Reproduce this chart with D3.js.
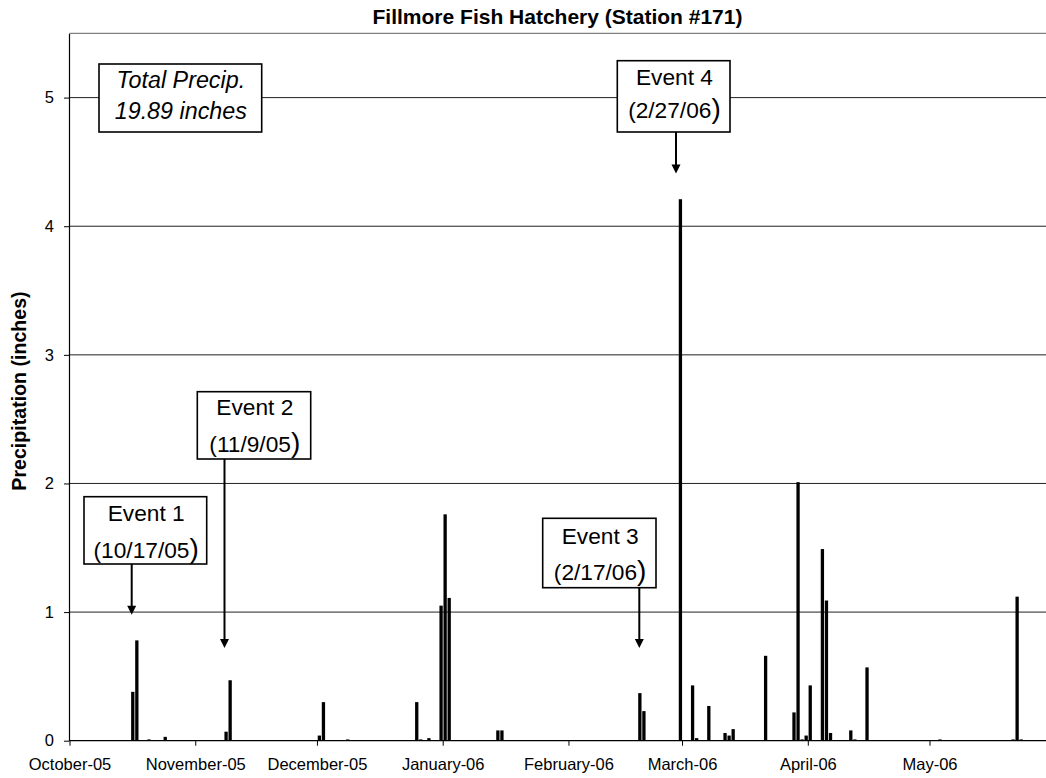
<!DOCTYPE html>
<html>
<head>
<meta charset="utf-8">
<script src="https://cdn.jsdelivr.net/npm/d3@7"></script>
<style>
  html, body { margin: 0; padding: 0; background: #fff; }
  svg { display: block; font-family: "Liberation Sans", Arial, sans-serif; }
</style>
</head>
<body>
<svg id="chart" width="1046" height="778"></svg>
<script>
// ---- data ----
const barDates = [
  "2005-10-16","2005-10-17","2005-10-20","2005-10-24",
  "2005-11-08","2005-11-09",
  "2005-12-01","2005-12-02","2005-12-08","2005-12-25","2005-12-26","2005-12-28","2005-12-31",
  "2006-01-01","2006-01-02","2006-01-14","2006-01-15",
  "2006-02-18","2006-02-19","2006-02-28",
  "2006-03-03","2006-03-04","2006-03-07","2006-03-11","2006-03-12","2006-03-13",
  "2006-03-21","2006-03-28","2006-03-29","2006-03-30","2006-03-31",
  "2006-04-01","2006-04-04","2006-04-05","2006-04-06","2006-04-11","2006-04-12","2006-04-15",
  "2006-05-03","2006-05-21","2006-05-22","2006-05-23"
];
const barValues = [
  0.38, 0.78, 0.01, 0.03,
  0.07, 0.47,
  0.04, 0.30, 0.01, 0.30, 0.01, 0.02, 1.05,
  1.76, 1.11, 0.08, 0.08,
  0.37, 0.23, 4.21,
  0.43, 0.02, 0.27, 0.06, 0.04, 0.09,
  0.66, 0.22, 2.01, 0.01, 0.04,
  0.43, 1.49, 1.09, 0.06, 0.08, 0.01, 0.57,
  0.01, 0.01, 1.12, 0.01
];
const monthTickDates = ["2005-10-01","2005-11-01","2005-12-01","2006-01-01","2006-02-01","2006-03-01","2006-04-01","2006-05-01"];
const monthTickLabels = ["October-05","November-05","December-05","January-06","February-06","March-06","April-06","May-06"];
const yTickValues = [0, 1, 2, 3, 4, 5];
const titleText = "Fillmore Fish Hatchery (Station #171)";
const yLabelText = "Precipitation (inches)";
const totalLines = ["Total Precip.", "19.89 inches"];
const eventNames = ["Event 1", "Event 2", "Event 3", "Event 4"];
const eventDates = ["(10/17/05", "(11/9/05", "(2/17/06", "(2/27/06"];

// ---- layout ----
const svg = d3.select("#chart");
const parse = d3.utcParse("%Y-%m-%d");
const plotLeft = 69.5, dayPx = 4.0566, plotTop = 33.3, plotBottom = 740.7;
const x = d3.scaleUtc()
  .domain([parse("2005-10-01"), parse("2006-05-30")])
  .range([plotLeft, plotLeft + dayPx * 241]);
const y = d3.scaleLinear().domain([0, 5.5]).range([plotBottom, plotTop]);
const barW = 3.3;

// plot top border
svg.append("line")
  .attr("x1", plotLeft).attr("x2", 1046)
  .attr("y1", plotTop).attr("y2", plotTop)
  .attr("stroke", "#7f7f7f").attr("stroke-width", 1.2);

// gridlines
svg.append("g").selectAll("line")
  .data(yTickValues.filter(v => v > 0))
  .join("line")
  .attr("x1", plotLeft).attr("x2", 1046)
  .attr("y1", d => y(d)).attr("y2", d => y(d))
  .attr("stroke", "#222").attr("stroke-width", 1);

// bars
const bars = barDates.map((d, i) => ({ date: parse(d), value: barValues[i] }));
svg.append("g").selectAll("rect")
  .data(bars)
  .join("rect")
  .attr("x", d => x(d.date) + 0.6 * dayPx - barW / 2)
  .attr("width", barW)
  .attr("y", d => y(d.value))
  .attr("height", d => y(0) - y(d.value))
  .attr("fill", "#000");

// x axis
const xAxis = d3.axisBottom(x)
  .tickValues(monthTickDates.map(parse))
  .tickFormat((d, i) => monthTickLabels[i])
  .tickSize(5).tickSizeOuter(0).tickPadding(13);
const gx = svg.append("g").attr("transform", `translate(0,${plotBottom})`).call(xAxis);
gx.select(".domain").attr("stroke", "#000").attr("stroke-width", 1.2).attr("d", `M${plotLeft},0H1046`);
gx.selectAll(".tick line").attr("stroke", "#000");
gx.selectAll(".tick text").attr("fill", "#000").attr("font-size", "16.5px")
  .attr("font-family", "'Liberation Sans', Arial, sans-serif");

// y axis
const yAxis = d3.axisLeft(y)
  .tickValues(yTickValues)
  .tickFormat(d3.format("d"))
  .tickSize(5).tickSizeOuter(0).tickPadding(10);
const gy = svg.append("g").attr("transform", `translate(${plotLeft - 0.5},0)`).call(yAxis);
gy.select(".domain").attr("stroke", "#000").attr("stroke-width", 1.2);
gy.selectAll(".tick line").attr("stroke", "#000");
gy.selectAll(".tick text").attr("fill", "#000").attr("font-size", "16.5px")
  .attr("font-family", "'Liberation Sans', Arial, sans-serif");

// title
svg.append("text")
  .attr("x", 557.5).attr("y", 24)
  .attr("text-anchor", "middle")
  .attr("font-weight", "bold").attr("font-size", "21px")
  .text(titleText);

// y label
svg.append("text")
  .attr("transform", "translate(26,391) rotate(-90)")
  .attr("text-anchor", "middle")
  .attr("font-weight", "bold").attr("font-size", "19.6px")
  .text(yLabelText);

// total precip box
const tb = svg.append("g");
tb.append("rect").attr("x", 99).attr("y", 64).attr("width", 162.7).attr("height", 68)
  .attr("fill", "#fff").attr("stroke", "#000").attr("stroke-width", 1.6);
tb.selectAll("text").data(totalLines).join("text")
  .attr("x", 180.8).attr("y", (d, i) => i === 0 ? 88.3 : 119.3)
  .attr("text-anchor", "middle").attr("font-style", "italic").attr("font-size", "23.3px")
  .text(d => d);

// event annotations (layout)
const boxes = [
  { x0: 84,    y0: 496.7, x1: 206.7, y1: 564,   t1: 24.3, t2: 61.3, ax: 131.7, tipV: 0.98 },
  { x0: 197.3, y0: 391.7, x1: 310.7, y1: 459,   t1: 23.3, t2: 60,   ax: 224.5, tipV: 0.72 },
  { x0: 542.7, y0: 518.3, x1: 656,   y1: 587.7, t1: 26,   t2: 61.7, ax: 639.3, tipV: 0.72 },
  { x0: 617.3, y0: 60.7,  x1: 730,   y1: 132,   t1: 24.3, t2: 57.6, ax: 676,   tipV: 4.41 }
];
boxes.forEach((b, i) => {
  const g = svg.append("g");
  const tipY = y(b.tipV);
  g.append("line").attr("x1", b.ax).attr("x2", b.ax)
    .attr("y1", b.y1).attr("y2", tipY - 8)
    .attr("stroke", "#000").attr("stroke-width", 2);
  g.append("path")
    .attr("d", `M${b.ax - 4.5},${tipY - 9}L${b.ax + 4.5},${tipY - 9}L${b.ax},${tipY}Z`)
    .attr("fill", "#000");
  g.append("rect").attr("x", b.x0).attr("y", b.y0)
    .attr("width", b.x1 - b.x0).attr("height", b.y1 - b.y0)
    .attr("fill", "#fff").attr("stroke", "#000").attr("stroke-width", 1.6);
  const cx = (b.x0 + b.x1) / 2 + 0.8;
  g.append("text").attr("x", cx).attr("y", b.y0 + b.t1)
    .attr("text-anchor", "middle").attr("font-size", "22.7px")
    .text(eventNames[i]);
  const t2 = g.append("text").attr("x", cx).attr("y", b.y0 + b.t2)
    .attr("text-anchor", "middle").attr("font-size", "22.7px");
  t2.append("tspan").text(eventDates[i]);
  t2.append("tspan").attr("font-size", "28px").text(")");
});
</script>
</body>
</html>
